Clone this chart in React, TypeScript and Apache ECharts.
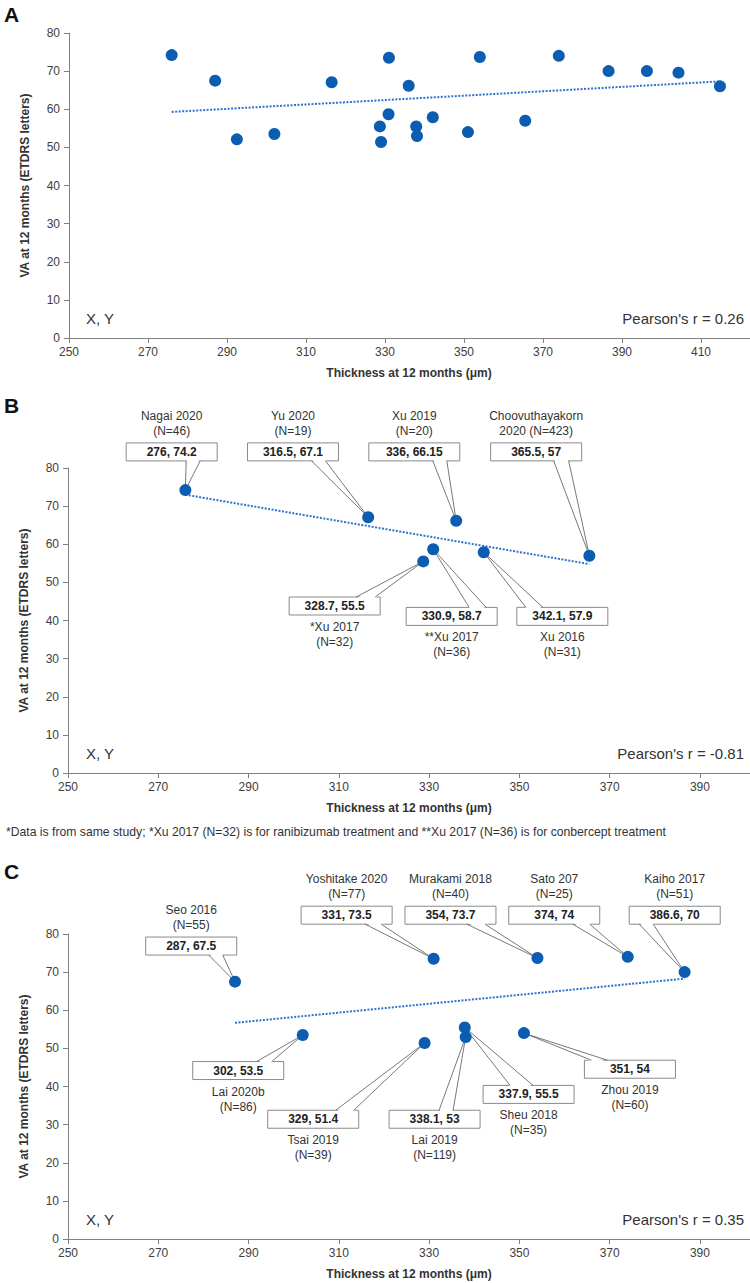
import React, { useEffect, useRef } from 'react';
import * as echarts from 'echarts';

// ---------------- DATA ----------------
// Panel A: all studies
const A_X = [276, 287, 292.5, 302, 316.5, 328.7, 329, 330.9, 331, 336, 337.9, 338.1, 342.1, 351, 354, 365.5, 374, 386.6, 396.3, 404.3, 414.8];
const A_Y = [74.2, 67.5, 52.1, 53.5, 67.1, 55.5, 51.4, 58.7, 73.5, 66.15, 55.5, 53, 57.9, 54, 73.7, 57, 74, 70, 70.0, 69.6, 66.0];
const A_TREND_X = [276, 414.8];
const A_TREND_Y = [59.3, 67.3];
const A_R = "Pearson's r = 0.26";

// Panel B
const B_NAMES = ['Nagai 2020\n(N=46)', 'Yu 2020\n(N=19)', 'Xu 2019\n(N=20)', 'Choovuthayakorn\n2020 (N=423)', '*Xu 2017\n(N=32)', '**Xu 2017\n(N=36)', 'Xu 2016\n(N=31)'];
const B_X = [276, 316.5, 336, 365.5, 328.7, 330.9, 342.1];
const B_Y = [74.2, 67.1, 66.15, 57, 55.5, 58.7, 57.9];
const B_TREND_X = [276, 365.5];
const B_TREND_Y = [73.0, 54.8];
const B_R = "Pearson's r = -0.81";

// Panel C
const C_NAMES = ['Seo 2016\n(N=55)', 'Yoshitake 2020\n(N=77)', 'Murakami 2018\n(N=40)', 'Sato 207\n(N=25)', 'Kaiho 2017\n(N=51)', 'Lai 2020b\n(N=86)', 'Tsai 2019\n(N=39)', 'Lai 2019\n(N=119)', 'Sheu 2018\n(N=35)', 'Zhou 2019\n(N=60)'];
const C_X = [287, 331, 354, 374, 386.6, 302, 329, 338.1, 337.9, 351];
const C_Y = [67.5, 73.5, 73.7, 74, 70, 53.5, 51.4, 53, 55.5, 54];
const C_TREND_X = [287, 386.6];
const C_TREND_Y = [56.7, 68.3];
const C_R = "Pearson's r = 0.35";

const PANEL_LETTERS = ['A', 'B', 'C'];
const X_TITLE = 'Thickness at 12 months (μm)';
const Y_TITLE = 'VA at 12 months (ETDRS letters)';
const XY_TEXT = 'X, Y';
const FOOTNOTE = '*Data is from same study; *Xu 2017 (N=32) is for ranibizumab treatment and **Xu 2017 (N=36) is for conbercept treatment';

// ---------------- LAYOUT (callout offsets from the point, in px) ----------------
const B_CALLOUT = [
  { dx: -13.7, dy: -38.2, base: [60, 74] },
  { dx: -75.2, dy: -65.3, base: [64, 78] },
  { dx: -41.9, dy: -68.9, base: [64, 78] },
  { dx: -53.2, dy: -103.8, base: [63, 78] },
  { dx: -88.6, dy: 44.6, base: [67, 86] },
  { dx: 18.5, dy: 67.2, base: [63, 80] },
  { dx: 78.6, dy: 64.1, base: [9, 26] },
];
const C_CALLOUT = [
  { dx: -43.8, dy: -35.6, base: [63, 77] },
  { dx: -87, dy: -43.6, base: [64, 80] },
  { dx: -87, dy: -42.8, base: [62, 80] },
  { dx: -73.5, dy: -41.7, base: [64, 81] },
  { dx: -9.9, dy: -56.9, base: [10, 24] },
  { dx: -64.5, dy: 35.5, base: [64, 79] },
  { dx: -111.4, dy: 76.2, base: [68, 86] },
  { dx: -31.1, dy: 82.3, base: [50, 64] },
  { dx: 63.8, dy: 67, base: [27, 50] },
  { dx: 106, dy: 36.1, base: [7, 23] },
];

const FONT = "'Liberation Sans', Arial, Helvetica, sans-serif";
const MARKER = '#0a5db0';
const TREND = '#2f72cf';
const AXIS_COLOR = '#808080';
const LABEL_COLOR = '#404040';
const TEXT_COLOR = '#333333';
const BOX_W = 91;
const BOX_H = 18;

const GRID_LEFT = [69, 68, 68];
const GRID_TOP = [33, 468, 934];
const GRID_H = 305;
const X_MAX = [430, 410, 410];
const X_VIS_MAX = [410, 390, 390];
const X_PX_PER_UNIT = [3.95, 4.514, 4.514];
const X_TITLE_CX = 409;

function makeCalloutRenderer(names: string[], layout: any[], xs: number[], ys: number[]) {
  return (params: any, api: any) => {
    const i = params.dataIndex;
    const p = api.coord([api.value(0), api.value(1)]);
    const L = layout[i];
    const cx = p[0] + L.dx;
    const cy = p[1] + L.dy;
    const left = cx - BOX_W / 2;
    const top = cy - BOX_H / 2;
    const above = L.dy < 0;
    const ey = above ? top + BOX_H : top;
    const inner = above ? -1.5 : 1.5;
    const b1 = [left + L.base[0], ey];
    const b2 = [left + L.base[1], ey];
    return {
      type: 'group',
      children: [
        {
          type: 'rect',
          shape: { x: left, y: top, width: BOX_W, height: BOX_H },
          style: { fill: '#ffffff', stroke: '#8a8a8a', lineWidth: 1 },
        },
        {
          type: 'polygon',
          shape: { points: [[b1[0] + 0.6, ey + inner], [p[0], p[1]], [b2[0] - 0.6, ey + inner]] },
          style: { fill: '#ffffff' },
        },
        {
          type: 'polyline',
          shape: { points: [b1, [p[0], p[1]], b2] },
          style: { stroke: '#555555', lineWidth: 0.8, fill: null },
        },
        {
          type: 'text',
          style: {
            text: `${xs[i]}, ${ys[i]}`,
            x: cx,
            y: cy,
            align: 'center',
            verticalAlign: 'middle',
            fontSize: 12,
            fontWeight: 'bold',
            fontFamily: FONT,
            fill: '#222222',
          },
        },
        {
          type: 'text',
          style: {
            text: names[i],
            x: cx,
            y: above ? top - 19.5 : top + BOX_H + 19.5,
            align: 'center',
            verticalAlign: 'middle',
            fontSize: 12,
            lineHeight: 15,
            fontFamily: FONT,
            fill: TEXT_COLOR,
          },
        },
      ],
    };
  };
}

function buildOption() {
  const grids = [0, 1, 2].map((k) => ({
    left: GRID_LEFT[k],
    top: GRID_TOP[k],
    width: (X_MAX[k] - 250) * X_PX_PER_UNIT[k],
    height: GRID_H,
    containLabel: false,
    outerBoundsMode: 'none',
  }));

  const xAxes = [0, 1, 2].map((k) => ({
    type: 'value',
    gridIndex: k,
    min: 250,
    max: X_MAX[k],
    interval: 20,
    axisLine: { show: true, onZero: false, lineStyle: { color: AXIS_COLOR, width: 1 } },
    axisTick: { show: true, length: 5, lineStyle: { color: AXIS_COLOR } },
    splitLine: { show: false },
    axisLabel: {
      color: LABEL_COLOR,
      fontSize: 12,
      fontFamily: FONT,
      margin: 8,
      formatter: (v: number) => (v <= X_VIS_MAX[k] ? String(v) : ''),
    },
  }));

  const yAxes = [0, 1, 2].map((k) => ({
    type: 'value',
    gridIndex: k,
    min: 0,
    max: 80,
    interval: 10,
    axisLine: { show: true, onZero: false, lineStyle: { color: AXIS_COLOR, width: 1 } },
    axisTick: { show: true, length: 5, lineStyle: { color: AXIS_COLOR } },
    splitLine: { show: false },
    axisLabel: { color: LABEL_COLOR, fontSize: 12, fontFamily: FONT, margin: 9 },
    name: Y_TITLE,
    nameLocation: 'middle',
    nameGap: 38,
    nameRotate: 90,
    nameTextStyle: { fontWeight: 'bold', fontSize: 12, color: TEXT_COLOR, fontFamily: FONT },
  }));

  const trend = (k: number, xs: number[], ys: number[]) => ({
    type: 'line',
    xAxisIndex: k,
    yAxisIndex: k,
    data: xs.map((x, i) => [x, ys[i]]),
    symbol: 'none',
    showSymbol: false,
    lineStyle: { color: TREND, width: 2, type: [2, 1.5] },
    z: 3,
    silent: true,
  });

  const scatter = (k: number, xs: number[], ys: number[]) => ({
    type: 'scatter',
    xAxisIndex: k,
    yAxisIndex: k,
    data: xs.map((x, i) => [x, ys[i]]),
    symbol: 'circle',
    symbolSize: 12,
    itemStyle: { color: MARKER, opacity: 1 },
    z: 5,
  });

  const callouts = (k: number, names: string[], layout: any[], xs: number[], ys: number[]) => ({
    type: 'custom',
    xAxisIndex: k,
    yAxisIndex: k,
    coordinateSystem: 'cartesian2d',
    data: xs.map((x, i) => [x, ys[i]]),
    renderItem: makeCalloutRenderer(names, layout, xs, ys),
    clip: false,
    z: 2,
    silent: true,
  });

  const graphics: any[] = [];
  const letterY = [14.5, 405, 871.5];
  [0, 1, 2].forEach((k) => {
    graphics.push({
      type: 'text',
      x: 4,
      y: letterY[k],
      style: { text: PANEL_LETTERS[k], fontSize: 21, fontWeight: 'bold', fontFamily: FONT, fill: '#111111', align: 'left', verticalAlign: 'middle' },
    });
    const yy = GRID_TOP[k] + GRID_H - 20;
    graphics.push({
      type: 'text',
      x: 86,
      y: yy,
      style: { text: XY_TEXT, fontSize: 15, fontFamily: FONT, fill: TEXT_COLOR, align: 'left', verticalAlign: 'middle' },
    });
    graphics.push({
      type: 'text',
      x: 744,
      y: yy,
      style: { text: [A_R, B_R, C_R][k], fontSize: 15, fontFamily: FONT, fill: TEXT_COLOR, align: 'right', verticalAlign: 'middle' },
    });
    graphics.push({
      type: 'text',
      x: X_TITLE_CX,
      y: GRID_TOP[k] + GRID_H + 35,
      style: { text: X_TITLE, fontSize: 12, fontWeight: 'bold', fontFamily: FONT, fill: TEXT_COLOR, align: 'center', verticalAlign: 'middle' },
    });
  });
  graphics.push({
    type: 'text',
    x: 6,
    y: 832,
    style: { text: FOOTNOTE, fontSize: 12.2, fontFamily: FONT, fill: TEXT_COLOR, align: 'left', verticalAlign: 'middle' },
  });

  return {
    animation: false,
    backgroundColor: '#ffffff',
    grid: grids,
    xAxis: xAxes,
    yAxis: yAxes,
    graphic: graphics,
    series: [
      trend(0, A_TREND_X, A_TREND_Y),
      scatter(0, A_X, A_Y),
      callouts(1, B_NAMES, B_CALLOUT, B_X, B_Y),
      trend(1, B_TREND_X, B_TREND_Y),
      scatter(1, B_X, B_Y),
      callouts(2, C_NAMES, C_CALLOUT, C_X, C_Y),
      trend(2, C_TREND_X, C_TREND_Y),
      scatter(2, C_X, C_Y),
    ],
  };
}

export default function App() {
  const ref = useRef<HTMLDivElement>(null);
  useEffect(() => {
    if (!ref.current) return;
    const chart = echarts.init(ref.current, null, { renderer: 'svg' });
    chart.setOption(buildOption() as any);
    return () => {
      chart.dispose();
    };
  }, []);
  return (
    <div
      ref={ref}
      style={{ position: 'absolute', left: 0, top: 0, width: 750, height: 1283, background: '#ffffff' }}
    />
  );
}
